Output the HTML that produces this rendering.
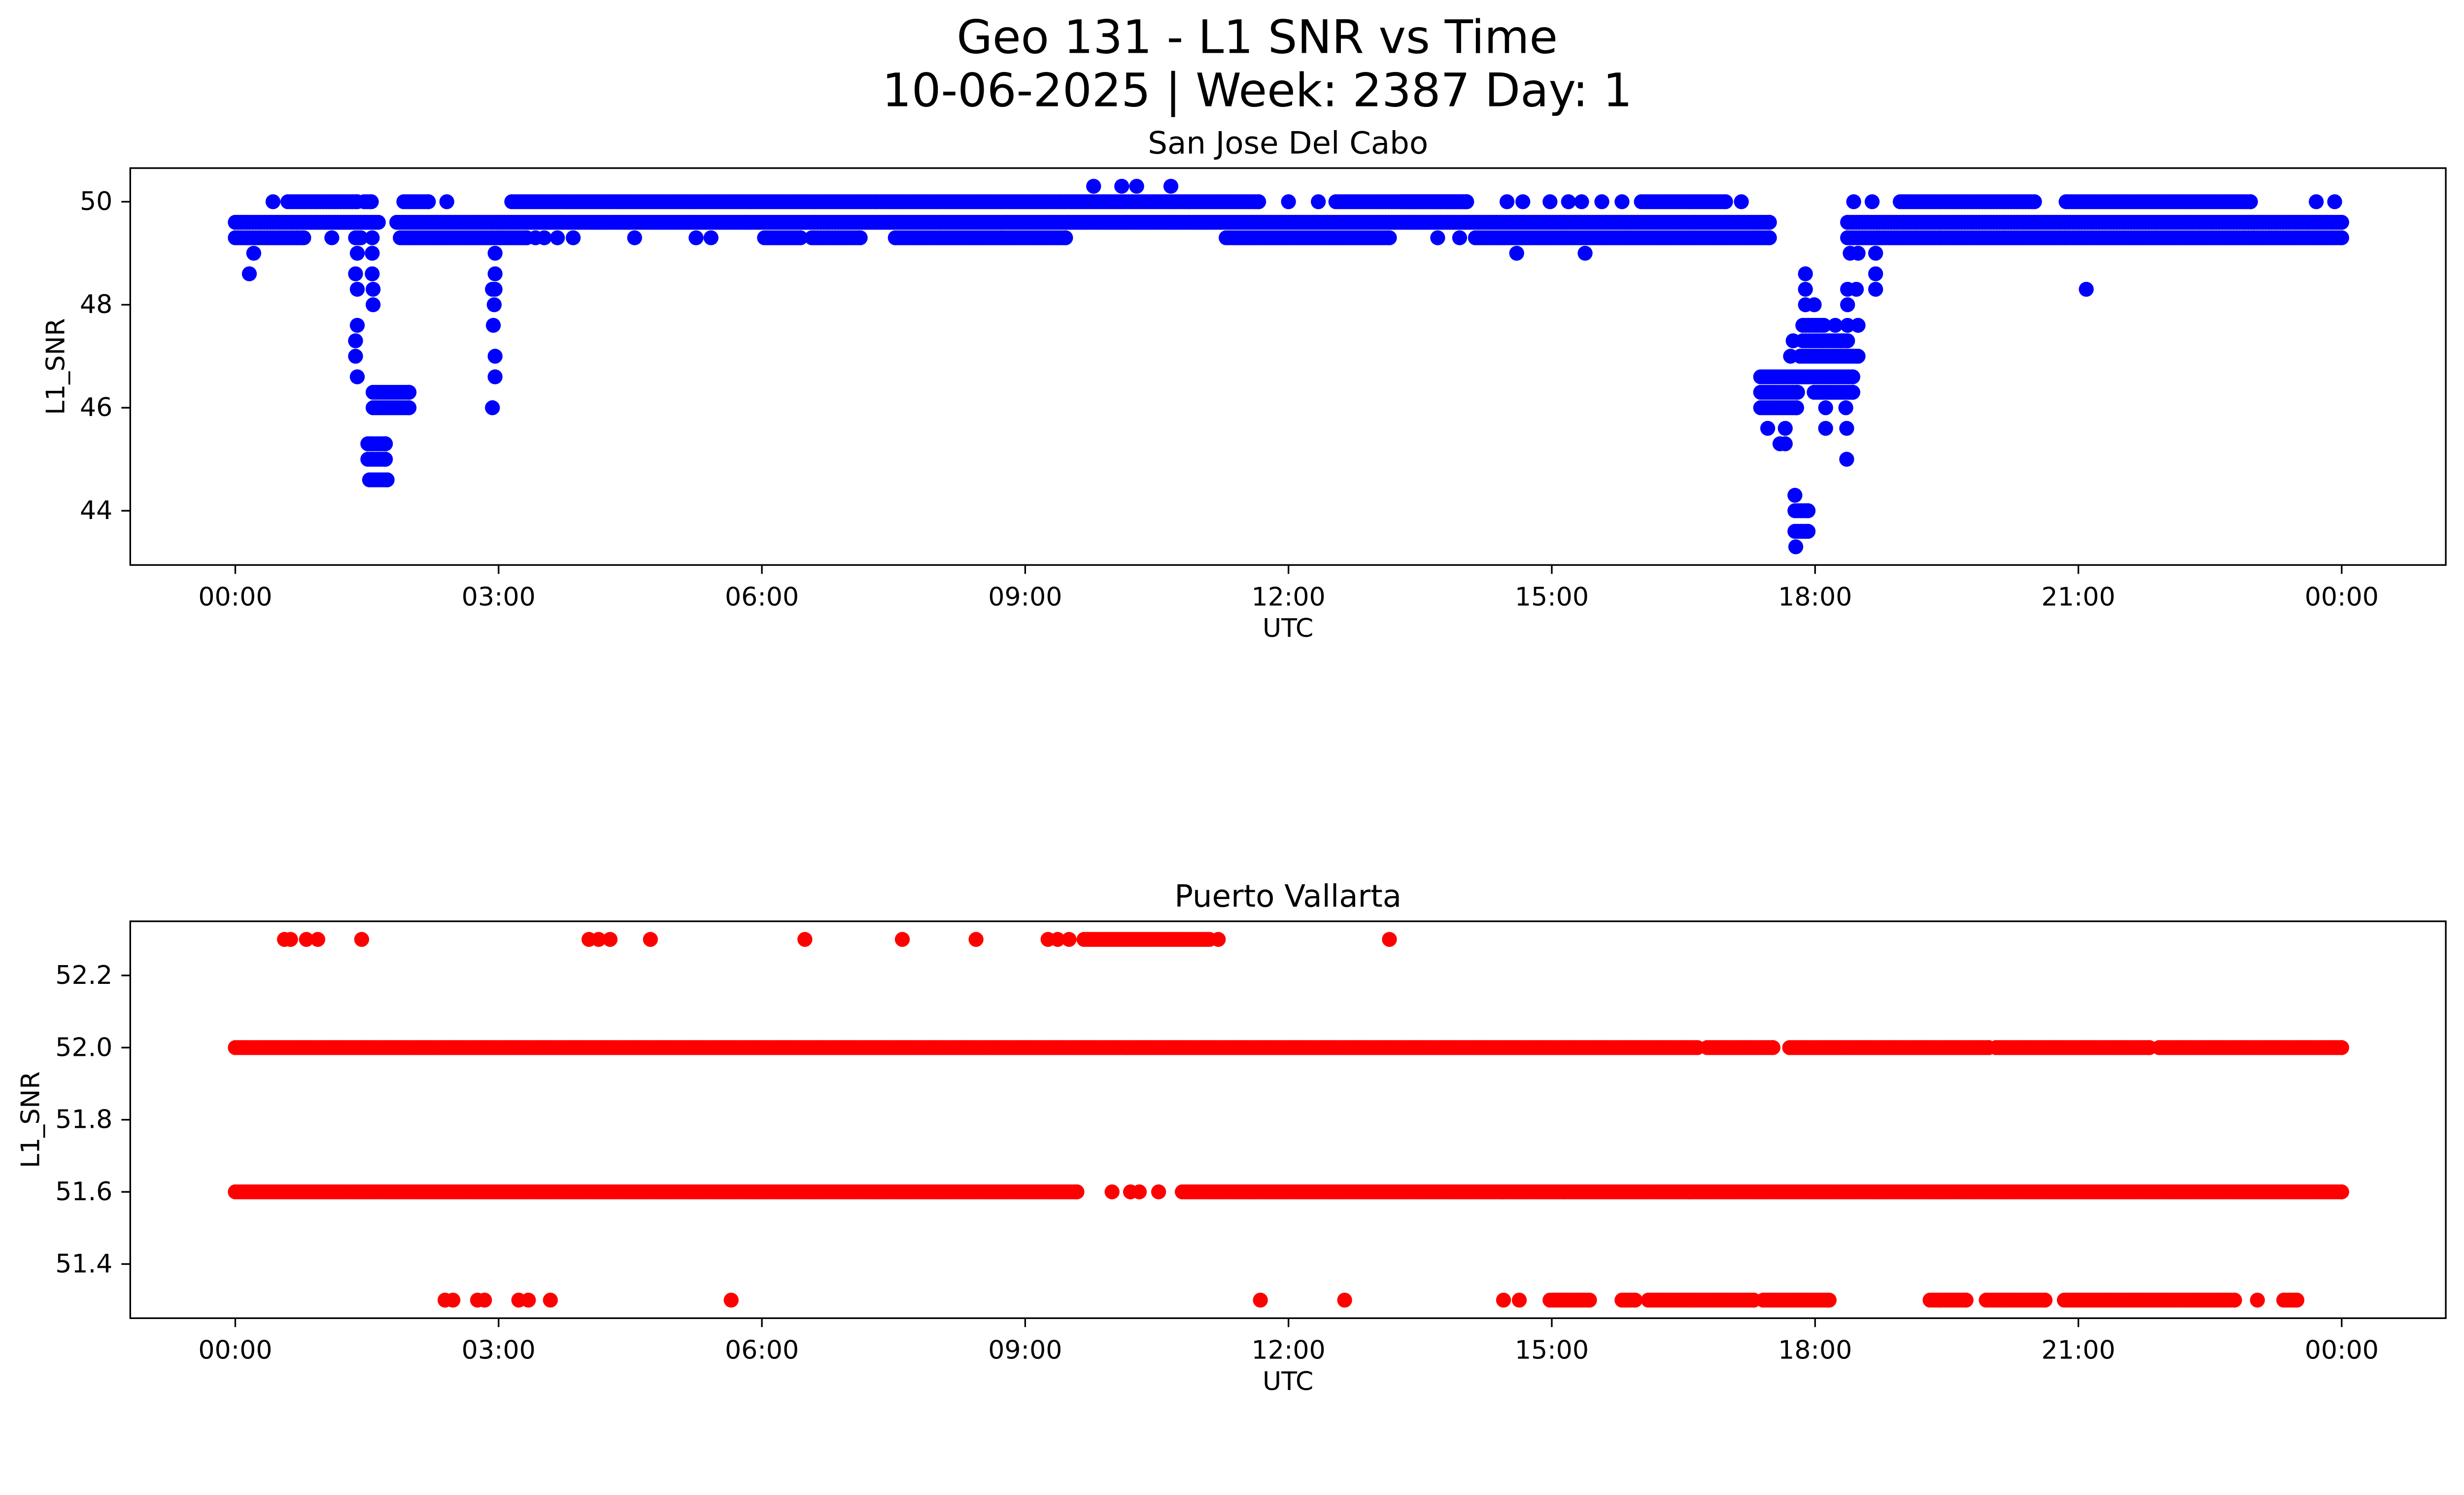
<!DOCTYPE html>
<html><head><meta charset="utf-8"><style>
html,body{margin:0;padding:0;background:#fff;overflow:hidden;}
svg{display:block;width:100vw;height:calc(100vw * 3033 / 5278);font-family:"DejaVu Sans","Liberation Sans",sans-serif;}
</style></head><body>
<svg id="fig" viewBox="0 0 5278 3033" preserveAspectRatio="none" xmlns="http://www.w3.org/2000/svg" overflow="hidden">
<rect width="5278" height="3033" fill="#fff"/>
<text x="2693" y="80" font-size="99" text-anchor="middle" dominant-baseline="central">Geo 131 - L1 SNR vs Time</text>
<text x="2693" y="194" font-size="99" text-anchor="middle" dominant-baseline="central">10-06-2025 | Week: 2387 Day: 1</text>
<g id="top"></g>
<g id="bot"></g>
</svg>
<script>
// ---- shared x axis (hours UTC) ----
const xTickHours = [0,3,6,9,12,15,18,21,24];
const xTickLabels = ["00:00","03:00","06:00","09:00","12:00","15:00","18:00","21:00","00:00"];
// ---- San Jose Del Cabo data ----
const topYTicks = [44,46,48,50];
// dense runs: [value, startHour, endHour]
const topRunValues = [50.0,50.0,50.0,50.0,50.0,50.0,50.0,49.6,49.6,49.6,49.3,49.3,49.3,49.3,49.3,49.3,49.3,49.3,49.3,46.6,46.3,46.3,46.0,47.0,47.3,47.6,44.0,43.6,46.3,46.0,45.3,45.0,44.6];
const topRunStarts = [0.6,1.47,1.92,3.15,12.54,16.02,18.97,0,1.84,18.37,0,1.88,6.03,6.57,7.52,11.29,14.13,18.37,1.37,17.38,17.38,17.99,17.38,17.83,17.86,17.86,17.77,17.77,1.57,1.57,1.51,1.51,1.53];
const topRunEnds = [1.39,1.55,2.2,11.66,14.03,16.98,20.5,1.63,17.48,24.0,0.78,3.32,6.44,7.12,9.46,13.15,17.48,24.0,1.43,18.43,17.8,18.43,17.79,18.49,18.37,18.1,17.92,17.92,1.98,1.98,1.71,1.71,1.73];
const topRunValues2 = [50.0,50.0];
const topRunStarts2 = [20.86,13.28];
const topRunEnds2 = [22.96,14.03];
// isolated points
const topPtHours = [0.43,2.41,12.0,12.34,14.49,14.67,14.98,15.19,15.34,15.57,15.8,17.16,18.44,18.65,23.71,23.92,
 9.78,10.1,10.27,10.66,
 1.1,1.56,3.42,3.52,3.67,3.85,4.55,5.25,5.42,13.7,13.95,
 0.21,1.39,1.56,2.96,14.6,15.38,18.4,18.69,18.49,
 0.16,1.37,1.56,2.96,17.89,18.69,
 1.39,1.57,2.93,2.96,17.89,18.37,18.47,18.69,21.09,
 1.57,2.95,17.89,17.99,18.37,
 1.39,2.94,18.23,18.37,18.49,
 1.37,17.75,
 1.37,2.96,17.72,
 1.39,2.96,
 2.93,18.12,18.35,
 17.46,17.66,18.12,18.36,
 17.6,17.66,
 18.36,
 17.77,
 17.78];
const topPtValues = [50,50,50,50,50,50,50,50,50,50,50,50,50,50,50,50,
 50.3,50.3,50.3,50.3,
 49.3,49.3,49.3,49.3,49.3,49.3,49.3,49.3,49.3,49.3,49.3,
 49.0,49.0,49.0,49.0,49.0,49.0,49.0,49.0,49.0,
 48.6,48.6,48.6,48.6,48.6,48.6,
 48.3,48.3,48.3,48.3,48.3,48.3,48.3,48.3,48.3,
 48.0,48.0,48.0,48.0,48.0,
 47.6,47.6,47.6,47.6,47.6,
 47.3,47.3,
 47.0,47.0,47.0,
 46.6,46.6,
 46.0,46.0,46.0,
 45.6,45.6,45.6,45.6,
 45.3,45.3,
 45.0,
 44.3,
 43.3];
// ---- Puerto Vallarta data ----
const botYTicks = [51.4,51.6,51.8,52.0,52.2];
const botYTickLabels = ["51.4","51.6","51.8","52.0","52.2"];
const botRunValues = [52.0,52.0,52.0,52.0,52.0,51.6,51.6,52.3,51.3,51.3,51.3,51.3,51.3,51.3,51.3,51.3];
const botRunStarts = [0,16.77,17.71,20.06,21.92,0,10.79,9.67,14.98,15.8,16.1,17.41,19.31,19.95,20.84,23.34];
const botRunEnds = [16.66,17.52,19.98,21.81,24.0,9.59,24.0,11.1,15.43,15.95,17.3,18.16,19.72,20.62,22.78,23.49];
const botPtHours = [0.56,0.63,0.81,0.94,1.44,4.03,4.14,4.27,4.73,6.49,7.6,8.44,9.26,9.37,9.5,11.2,13.15,
 9.99,10.2,10.3,10.52,
 2.39,2.48,2.76,2.84,3.23,3.34,3.59,5.65,11.68,12.64,14.45,14.63,23.04];
const botPtValues = [52.3,52.3,52.3,52.3,52.3,52.3,52.3,52.3,52.3,52.3,52.3,52.3,52.3,52.3,52.3,52.3,52.3,
 51.6,51.6,51.6,51.6,
 51.3,51.3,51.3,51.3,51.3,51.3,51.3,51.3,51.3,51.3,51.3,51.3,51.3];

const NS = "http://www.w3.org/2000/svg";
const X0 = 279, X1 = 5239;
function xPos(h){ return 504 + h*188; }
function mk(tag, attrs, parent){
  const e = document.createElementNS(NS, tag);
  for (const k in attrs) e.setAttribute(k, attrs[k]);
  parent.appendChild(e);
  return e;
}
const STEP = 1/30; // sampling cadence (2 min)

function drawPanel(g, cfg){
  const yPos = v => cfg.yRef + (cfg.vRef - v)*cfg.pxPerUnit;
  const t = mk("text",{x:2759,y:cfg.titleY,"font-size":66,"text-anchor":"middle","dominant-baseline":"central"},g);
  t.textContent = cfg.title;
  
  
  const pg = mk("g",{fill:cfg.color},g);
  
  
  const addPt = (h,v)=>{
    const c = mk("circle",{cx:xPos(h).toFixed(1),cy:yPos(v).toFixed(1),r:16},pg);
    
    
  };
  cfg.runs.forEach(([vals,starts,ends])=>{
    for(let i=0;i<vals.length;i++){
      for(let h=starts[i]; h<=ends[i]+1e-9; h+=STEP) addPt(h, vals[i]);
      addPt(ends[i], vals[i]);
    }
  });
  for(let i=0;i<cfg.ptH.length;i++) addPt(cfg.ptH[i], cfg.ptV[i]);
  const fr = mk("rect",{x:X0,y:cfg.top,width:X1-X0,height:cfg.bottom-cfg.top,fill:"none",stroke:"#000","stroke-width":3.5},g);
  
  
  xTickHours.forEach((h,i)=>{
    const x = xPos(h);
    const l = mk("line",{x1:x,x2:x,y1:cfg.bottom,y2:cfg.bottom+19,stroke:"#000","stroke-width":3.5},g);
    
    
    const tx = mk("text",{x:x,y:cfg.bottom+69,"font-size":55,"text-anchor":"middle","dominant-baseline":"central"},g);
    tx.textContent = xTickLabels[i];
    
    
  });
  cfg.yTicks.forEach((v,i)=>{
    const y = yPos(v);
    const l = mk("line",{x1:X0-19,x2:X0,y1:y,y2:y,stroke:"#000","stroke-width":3.5},g);
    
    
    const ty = mk("text",{x:241,y:y,"font-size":55,"text-anchor":"end","dominant-baseline":"central"},g);
    ty.textContent = cfg.yLabels[i];
    
    
  });
  const xl = mk("text",{x:2759,y:cfg.bottom+136,"font-size":55,"text-anchor":"middle","dominant-baseline":"central"},g);
  xl.textContent = "UTC";
  
  
  const cy = (cfg.top+cfg.bottom)/2;
  const yl = mk("text",{x:cfg.ylabX,y:cy,"font-size":55,"text-anchor":"middle","dominant-baseline":"central",transform:`rotate(-90 ${cfg.ylabX} ${cy})`},g);
  yl.textContent = "L1_SNR";
  
  
}

drawPanel(document.getElementById("top"),{
  title:"San Jose Del Cabo", titleY:306, color:"#0000ff",
  top:360, bottom:1210, yRef:432, vRef:50, pxPerUnit:110.3,
  yTicks:topYTicks, yLabels:topYTicks.map(String), ylabX:120,
  runs:[[topRunValues,topRunStarts,topRunEnds],[topRunValues2,topRunStarts2,topRunEnds2]],
  ptH:topPtHours, ptV:topPtValues
});
drawPanel(document.getElementById("bot"),{
  title:"Puerto Vallarta", titleY:1919, color:"#ff0000",
  top:1973, bottom:2823, yRef:2089, vRef:52.2, pxPerUnit:772.5,
  yTicks:botYTicks, yLabels:botYTickLabels, ylabX:66,
  runs:[[botRunValues,botRunStarts,botRunEnds]],
  ptH:botPtHours, ptV:botPtValues
});
</script>
</body></html>
